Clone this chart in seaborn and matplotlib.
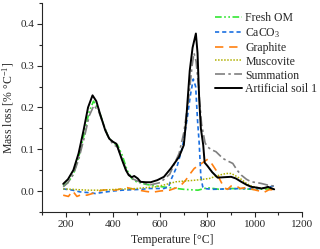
import matplotlib
matplotlib.use("Agg")
import matplotlib.pyplot as plt
import seaborn as sns
from matplotlib.ticker import MultipleLocator

# Artificial soil 1 (measured)
t_soil = [190, 210, 233, 255, 276, 295, 314, 330, 345, 368, 385, 400, 415, 439, 455,
          467, 480, 490, 505, 517, 540, 560, 588, 616, 645, 680, 700, 710, 725, 737,
          751, 758, 765, 772, 782, 788, 800, 820, 843, 870, 900, 920, 943, 965, 985,
          1010, 1028, 1045, 1056, 1068, 1082]
v_soil = [0.017, 0.028, 0.05, 0.09, 0.145, 0.2, 0.229, 0.215, 0.186, 0.145, 0.125, 0.118,
          0.113, 0.074, 0.05, 0.038, 0.033, 0.036, 0.03, 0.022, 0.021, 0.021, 0.026, 0.034,
          0.054, 0.082, 0.11, 0.17, 0.288, 0.343, 0.377, 0.33, 0.22, 0.15, 0.11, 0.068,
          0.06, 0.045, 0.032, 0.033, 0.034, 0.03, 0.022, 0.015, 0.01, 0.008, 0.006, 0.008,
          0.01, 0.007, 0.004]

# Summation of components
t_sum = [190, 210, 233, 255, 280, 300, 320, 340, 360, 380, 400, 420, 440, 460, 480, 500,
         530, 560, 600, 640, 680, 700, 720, 735, 743, 752, 762, 775, 790, 801, 820, 836,
         865, 885, 907, 925, 943, 965, 985, 1010, 1028, 1056, 1080]
v_sum = [0.01, 0.02, 0.04, 0.075, 0.13, 0.18, 0.205, 0.19, 0.16, 0.13, 0.112, 0.105, 0.075,
         0.045, 0.03, 0.025, 0.018, 0.015, 0.02, 0.04, 0.09, 0.14, 0.22, 0.3, 0.33, 0.31,
         0.25, 0.16, 0.115, 0.105, 0.098, 0.094, 0.078, 0.072, 0.066, 0.05, 0.038, 0.028,
         0.022, 0.02, 0.018, 0.014, 0.012]

# Fresh OM
t_om = [190, 210, 233, 255, 280, 300, 318, 340, 360, 380, 400, 420, 440, 460, 480, 500,
        540, 580, 640, 700, 760, 800, 850, 900, 950, 1000, 1050, 1080]
v_om = [0.012, 0.02, 0.04, 0.08, 0.14, 0.19, 0.215, 0.195, 0.16, 0.13, 0.115, 0.11, 0.085,
        0.05, 0.03, 0.022, 0.016, 0.012, 0.008, 0.004, 0.002, 0.008, 0.004, 0.006, 0.005,
        0.004, 0.005, 0.004]

# CaCO3
t_caco3 = [190, 230, 260, 300, 326, 360, 400, 439, 480, 520, 552, 600, 616, 636, 645, 660,
           673, 694, 713, 728, 740, 750, 758, 765, 772, 780, 786, 820, 880, 950, 1000,
           1050, 1080]
v_caco3 = [0.005, 0.002, -0.002, -0.004, -0.006, -0.003, 0.0, 0.002, 0.003, 0.004, 0.006,
           0.006, 0.006, 0.01, 0.026, 0.045, 0.062, 0.105, 0.169, 0.23, 0.268, 0.25, 0.169,
           0.114, 0.034, 0.01, 0.006, 0.004, 0.005, 0.006, 0.005, 0.008, 0.012]

# Graphite
t_graph = [190, 212, 230, 248, 270, 290, 320, 354, 380, 411, 440, 460, 485, 510, 540, 567,
           600, 640, 670, 690, 708, 725, 744, 765, 785, 801, 815, 836, 850, 870, 885, 900,
           920, 940, 960, 990, 1020, 1040, 1060, 1080]
v_graph = [-0.01, -0.013, 0.0, -0.013, -0.008, -0.01, -0.005, 0.002, 0.003, 0.002, 0.006,
           0.008, 0.005, 0.002, -0.001, -0.003, 0.0, 0.002, 0.008, 0.015, 0.026, 0.04, 0.054,
           0.062, 0.07, 0.076, 0.068, 0.05, 0.03, 0.008, 0.004, 0.012, 0.012, 0.006, 0.008,
           0.004, 0.0, -0.003, 0.003, 0.003]

# Muscovite
t_musc = [190, 230, 260, 297, 340, 380, 420, 460, 500, 540, 581, 620, 666, 708, 751, 808,
          850, 879, 900, 914, 943, 965, 985, 1010, 1040, 1080]
v_musc = [0.005, 0.004, 0.003, 0.002, 0.002, 0.003, 0.004, 0.005, 0.006, 0.008, 0.01, 0.015,
          0.022, 0.024, 0.026, 0.03, 0.038, 0.042, 0.042, 0.038, 0.028, 0.018, 0.012, 0.008,
          0.006, 0.005]

sns.set_style("ticks")
plt.rcParams["font.family"] = ["Liberation Serif", "DejaVu Serif"]
plt.rcParams["mathtext.fontset"] = "custom"
plt.rcParams["mathtext.rm"] = "Liberation Serif"
plt.rcParams["mathtext.it"] = "Liberation Serif:italic"

fig = plt.figure(figsize=(3.2, 2.49), dpi=100)
ax = fig.add_axes([0.131, 0.149, 0.813, 0.839])

series = [
    (t_om, v_om, "Fresh OM", "#33e633", (0, (4, 1.5, 1, 1.5, 1, 1.5)), 1.2),
    (t_caco3, v_caco3, "CaCO$_3$", "#1a6fe0", (0, (2.5, 1.8)), 1.2),
    (t_graph, v_graph, "Graphite", "#ff8010", (0, (5, 3.5)), 1.2),
    (t_musc, v_musc, "Muscovite", "#b0b000", (0, (1, 1)), 1.1),
    (t_sum, v_sum, "Summation", "#7f7f7f", (0, (6, 2, 1.5, 2)), 1.2),
    (t_soil, v_soil, "Artificial soil 1", "black", "-", 1.4),
]
for t, v, name, col, ls, lw in series:
    sns.lineplot(x=t, y=v, ax=ax, color=col, linestyle=ls, linewidth=lw,
                 label=name, sort=False)

ax.set_xlim(100, 1200)
ax.set_ylim(-0.05, 0.45)
ax.xaxis.set_major_locator(MultipleLocator(200))
ax.xaxis.set_minor_locator(MultipleLocator(100))
ax.yaxis.set_major_locator(MultipleLocator(0.1))
ax.yaxis.set_minor_locator(MultipleLocator(0.05))
ax.yaxis.set_major_formatter(matplotlib.ticker.FormatStrFormatter("%.1f"))
ax.tick_params(which="major", direction="out", length=3.5, width=0.8, labelsize=8, pad=2)
ax.tick_params(which="minor", direction="out", length=2, width=0.8)
sns.despine(ax=ax)
for s in ["left", "bottom"]:
    ax.spines[s].set_linewidth(0.8)

ax.set_xlabel("Temperature [°C]", fontsize=8.5, labelpad=4)
ax.set_ylabel("Mass loss [% °C$^{-1}$]", fontsize=8.5, labelpad=3)

ax.legend(loc="upper right", bbox_to_anchor=(1.085, 0.99), frameon=False, fontsize=8.5,
          handlelength=2.3, handletextpad=0.25, labelspacing=0.16, borderaxespad=0.2)

fig.savefig("out.png", dpi=100)
